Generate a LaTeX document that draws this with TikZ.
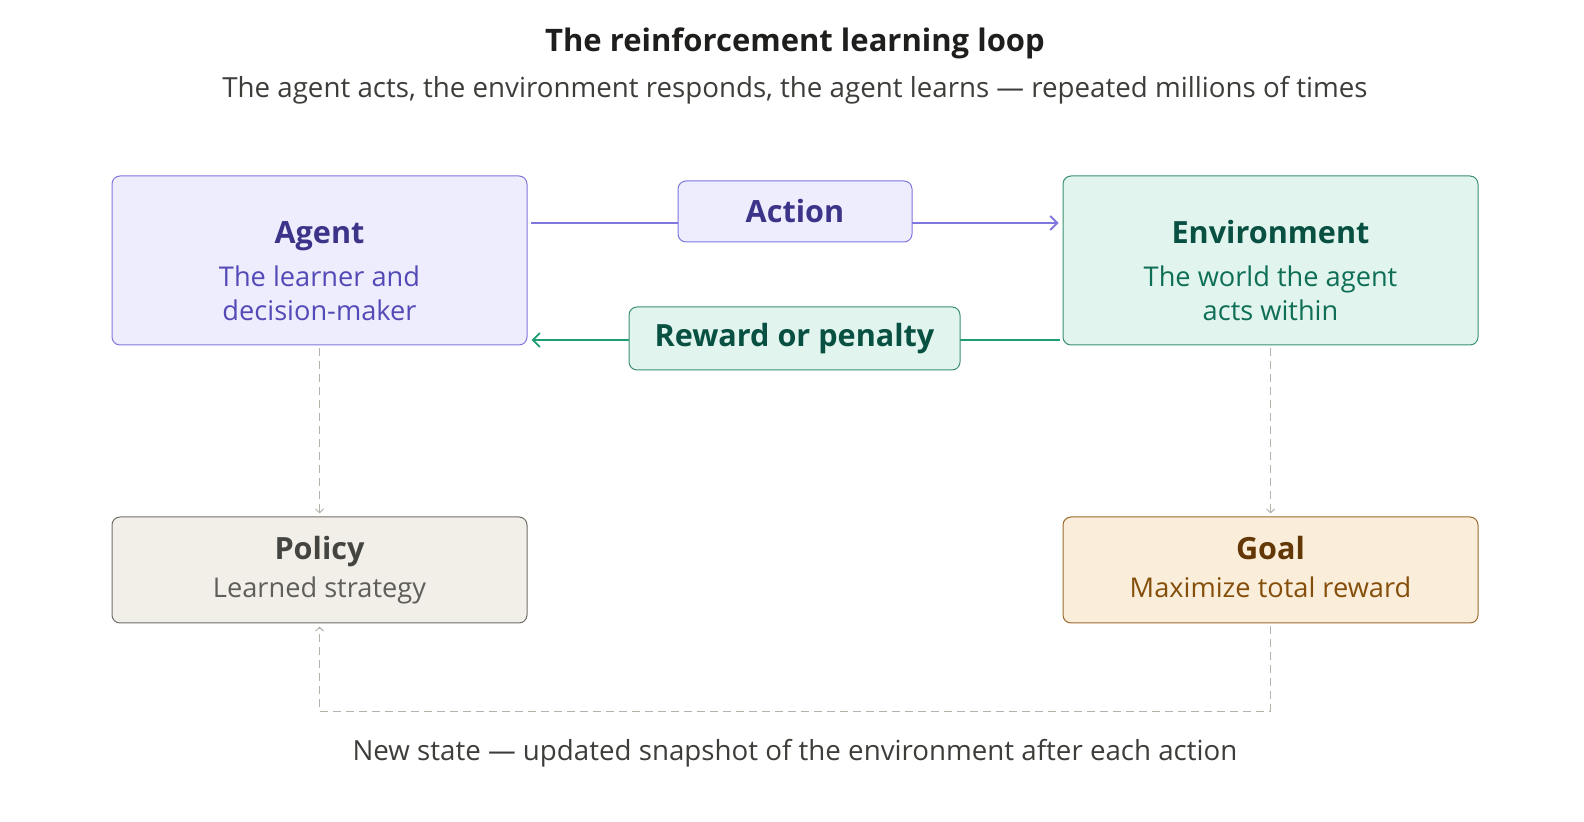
\documentclass[tikz,border=0pt]{standalone}
\usepackage{fontspec}
\setmainfont{Open Sans}
\usetikzlibrary{arrows.meta, positioning}

\definecolor{agentFill}{HTML}{EEEDFE}
\definecolor{agentLine}{HTML}{7F77DD}
\definecolor{agentInk}{HTML}{3C3489}
\definecolor{agentSub}{HTML}{534AB7}
\definecolor{envFill}{HTML}{E1F5EE}
\definecolor{envLine}{HTML}{3B8F74}
\definecolor{envArrow}{HTML}{1D9E75}
\definecolor{envInk}{HTML}{085041}
\definecolor{envSub}{HTML}{0F6E56}
\definecolor{polFill}{HTML}{F1EFE8}
\definecolor{polLine}{HTML}{6F6E69}
\definecolor{polInk}{HTML}{444441}
\definecolor{polSub}{HTML}{5F5E5A}
\definecolor{goalFill}{HTML}{FAEEDA}
\definecolor{goalLine}{HTML}{9A6A2E}
\definecolor{goalInk}{HTML}{633806}
\definecolor{goalSub}{HTML}{854F0B}
\definecolor{hintGray}{HTML}{B4B2A9}
\definecolor{headInk}{HTML}{1F1E1D}
\definecolor{noteInk}{HTML}{3D3D3A}

\newcommand{\boxname}[2]{{\fontsize{15.3}{17}\selectfont\bfseries\color{#1}#2}}

\begin{document}
\begin{tikzpicture}[x=0.5pt, y=-0.5pt,
	stage/.style={draw, rounded corners=4pt, line width=0.5pt, minimum width=207.5pt, align=center, inner sep=0pt, font=\fontsize{13.6}{17}\selectfont},
	bigstage/.style={stage, minimum height=84.5pt, text height=60pt, text depth=0pt},
	smallstage/.style={stage, minimum height=53pt, text height=28pt, text depth=0pt},
	tag/.style={draw, rounded corners=4pt, line width=0.5pt, inner sep=0pt, font=\fontsize{15.3}{17}\selectfont\bfseries},
	flow/.style={line width=0.9pt, shorten <=1.5pt, shorten >=2pt, -{Straight Barb[length=3.5pt,width=7pt]}},
	hint/.style={draw=hintGray, line width=0.5pt, dash pattern=on 4pt off 2.5pt, shorten <=1.5pt, shorten >=1.5pt, -{Straight Barb[length=2pt,width=4pt]}},
	note/.style={anchor=base, text=noteInk, font=\fontsize{13.85}{16}\selectfont}
]
	\useasboundingbox (0,0) rectangle (1584,822);

	\def\colL{319.5};
	\def\colR{1270.5};
	\def\colM{795};
	\def\rowTop{260.5};
	\def\rowLow{570};

	% heading
	\node[anchor=base, text=headInk, font=\fontsize{15.5}{17}\selectfont\bfseries] (heading) at (\colM,52) {The reinforcement learning loop};
	\node[note] (subheading) at (\colM,97.5) {The agent acts, the environment responds, the agent learns — repeated millions of times};

	% the four stages
	\node[bigstage, fill=agentFill, draw=agentLine, text=agentSub] (agent) at (\colL,\rowTop) {\boxname{agentInk}{Agent}\\[4.5pt]The learner and\\decision-maker};
	\node[bigstage, fill=envFill, draw=envLine, text=envSub] (env) at (\colR,\rowTop) {\boxname{envInk}{Environment}\\[4.5pt]The world the agent\\acts within};
	\node[smallstage, fill=polFill, draw=polLine, text=polSub] (policy) at (\colL,\rowLow) {\boxname{polInk}{Policy}\\[2pt]Learned strategy};
	\node[smallstage, fill=goalFill, draw=goalLine, text=goalSub] (goal) at (\colR,\rowLow) {\boxname{goalInk}{Goal}\\[2pt]Maximize total reward};

	% action and reward
	\coordinate (actY) at (0,223);
	\coordinate (rewY) at (0,340);
	\coordinate (loopY) at (0,711);
	\draw[flow, draw=agentLine] (agent.east |- actY) -- (env.west |- actY);
	\draw[flow, draw=envArrow] (env.west |- rewY) -- (agent.east |- rewY);
	\node[tag, fill=agentFill, draw=agentLine, text=agentInk, minimum width=117pt, minimum height=30.5pt] (action) at (\colM,211.5) {Action};
	\node[tag, fill=envFill, draw=envLine, text=envInk, minimum width=165.5pt, minimum height=31.5pt] (reward) at (794.5,338.5) {Reward or penalty};

	% state feedback
	\draw[hint] (agent.south) -- (policy.north);
	\draw[hint] (env.south) -- (goal.north);
	\draw[hint] (goal.south) -- (goal.south |- loopY) -| (policy.south);
	\node[note] (caption) at (\colM,760) {New state — updated snapshot of the environment after each action};
\end{tikzpicture}
\end{document}
